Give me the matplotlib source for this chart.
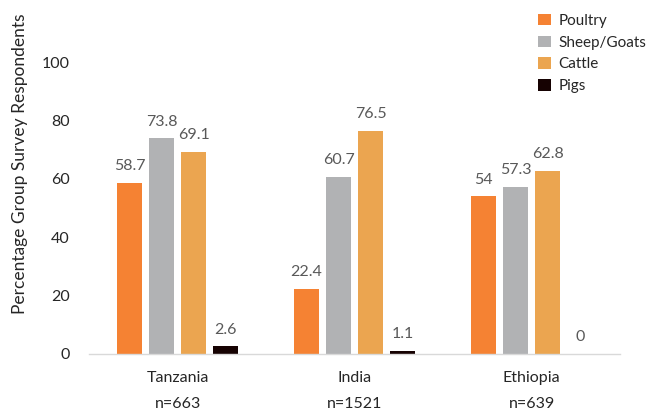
import matplotlib.pyplot as plt
import numpy as np

countries = ['Tanzania', 'India', 'Ethiopia']
sample_sizes = ['n=663', 'n=1521', 'n=639']
series = ['Poultry', 'Sheep/Goats', 'Cattle', 'Pigs']
poultry = [58.7, 22.4, 54]
sheep_goats = [73.8, 60.7, 57.3]
cattle = [69.1, 76.5, 62.8]
pigs = [2.6, 1.1, 0]
colors = ['#F58233', '#B1B2B4', '#EBA550', '#160202']

plt.rcParams['font.family'] = ['Lato', 'DejaVu Sans']

fig = plt.figure(figsize=(6.64, 4.12), dpi=100)
ax = fig.add_axes([0.134, 0.141, 0.8, 0.7085])

x = np.arange(len(countries))
step = 0.181
width = 0.142
for i, (name, vals) in enumerate(zip(series, [poultry, sheep_goats, cattle, pigs])):
    pos = x + (i - 1.5) * step
    ax.bar(pos, vals, width, color=colors[i], label=name)
    for p, v in zip(pos, vals):
        ax.annotate(f'{v:g}', (p, v), xytext=(0, 7), textcoords='offset points',
                    ha='center', va='bottom', color='#595959', fontsize=11.5,
                    annotation_clip=False)

ax.set_xlim(-0.5, 2.5)
ax.set_ylim(0, 100)
ax.set_yticks([0, 20, 40, 60, 80, 100])
ax.set_xticks(x)
ax.set_xticklabels([f'{c}\n{n}' for c, n in zip(countries, sample_sizes)],
                   linespacing=2.15)
ax.tick_params(axis='both', length=0, labelsize=11.5, labelcolor='#262626')
ax.tick_params(axis='x', pad=12)
ax.tick_params(axis='y', pad=14)
for s in ['top', 'right', 'left']:
    ax.spines[s].set_visible(False)
ax.spines['bottom'].set_color('#D9D9D9')
ax.spines['bottom'].set_linewidth(1)

ax.set_ylabel('Percentage Group Survey Respondents', fontsize=12.5,
              color='#262626')
ax.yaxis.set_label_coords(-0.115, 0.65)

fig.legend(loc='upper left', bbox_to_anchor=(0.79, 1.0), frameon=False,
           fontsize=11, handlelength=0.8, handleheight=0.8, handletextpad=0.5,
           labelspacing=0.5, labelcolor='#262626')

fig.savefig('out.png', dpi=100)
